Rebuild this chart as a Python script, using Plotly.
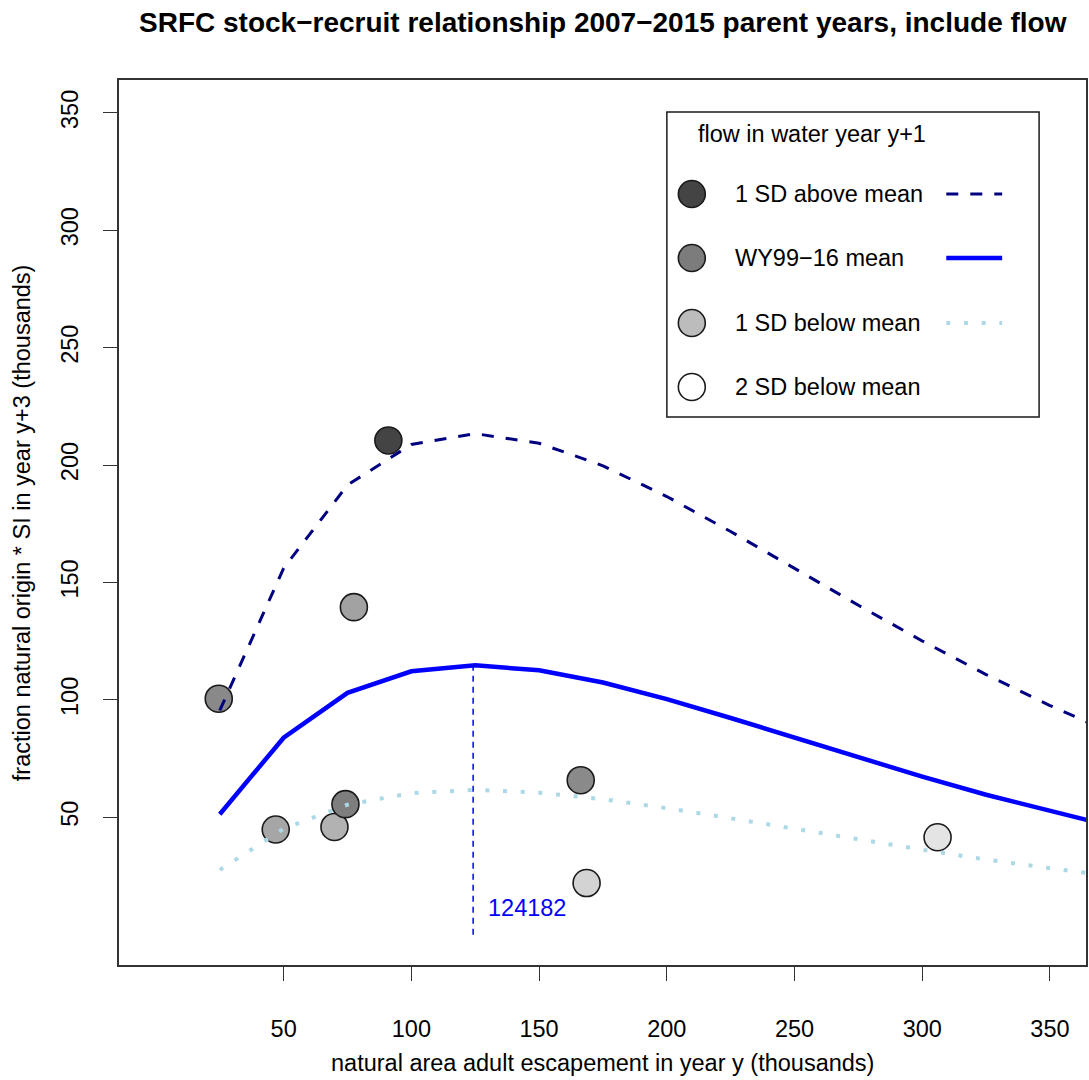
import plotly.graph_objects as go

# ---------------- data ----------------
# observed points: escapement (thousands) vs recruits index (thousands)
POINT_X = [91.0, 77.5, 24.6, 46.9, 69.9, 74.2, 166.3, 168.6, 306.0]
POINT_Y = [210.5, 139.5, 100.5, 44.8, 45.9, 55.6, 65.8, 22.0, 41.5]
POINT_FILL = ["#444444", "#a2a2a2", "#898989", "#a6a6a6", "#b2b2b2",
              "#7e7e7e", "#8a8a8a", "#d3d3d3", "#e4e4e4"]

# fitted stock-recruit curves, evaluated every 25 thousand
CURVE_X = [25, 50, 75, 100, 125, 150, 175, 200, 225, 250, 275, 300, 325, 350, 375]
CURVE_ABOVE = [95.5, 156.1, 191.5, 208.8, 213.4, 209.3, 199.7, 186.6, 171.7,
               156.0, 140.3, 125.1, 110.8, 97.6, 85.5]
CURVE_MEAN = [51.3, 83.9, 103.0, 112.2, 114.7, 112.6, 107.4, 100.3, 92.3,
              83.9, 75.4, 67.3, 59.6, 52.5, 46.0]
CURVE_BELOW = [27.6, 45.1, 55.4, 60.3, 61.7, 60.5, 57.7, 53.9, 49.6,
               45.1, 40.5, 36.2, 32.0, 28.2, 24.7]

PEAK_X = 124.182
PEAK_Y = 114.7
PEAK_LABEL = "124182"

X_TICKS = [50, 100, 150, 200, 250, 300, 350]
Y_TICKS = [50, 100, 150, 200, 250, 300, 350]

LEGEND_TITLE = "flow in water year y+1"
LEGEND_LABELS = ["1 SD above mean", "WY99\u221216 mean", "1 SD below mean", "2 SD below mean"]
LEGEND_FILLS = ["#444444", "#7c7c7c", "#bcbcbc", "#ffffff"]

TITLE = "SRFC stock\u2212recruit relationship 2007\u22122015 parent years, include flow"
X_TITLE = "natural area adult escapement in year y (thousands)"
Y_TITLE = "fraction natural origin * SI in year y+3 (thousands)"

# ---------------- layout geometry ----------------
W, H = 1089, 1080
L, R, T, B = 119, 1088, 80, 965  # plot area in pixels
FONT = "Liberation Sans, Arial, Helvetica, sans-serif"
FS = 23.5


def px_x(p):
    return (p - L) / (R - L)


def px_y(p):
    return (B - p) / (B - T)


fig = go.Figure()

# points (drawn first, lines on top as in the original)
fig.add_trace(go.Scatter(
    x=POINT_X, y=POINT_Y, mode="markers",
    marker=dict(size=27, color=POINT_FILL, line=dict(color="#1a1a1a", width=1.6)),
    showlegend=False, hoverinfo="x+y"))

# curves
fig.add_trace(go.Scatter(x=CURVE_X, y=CURVE_ABOVE, mode="lines",
                         line=dict(color="#000080", width=3, dash="12px,12px"),
                         showlegend=False))
fig.add_trace(go.Scatter(x=CURVE_X, y=CURVE_MEAN, mode="lines",
                         line=dict(color="#0000ff", width=4.5),
                         showlegend=False))
fig.add_trace(go.Scatter(x=CURVE_X, y=CURVE_BELOW, mode="lines",
                         line=dict(color="#add8e6", width=4, dash="4px,13.7px"),
                         showlegend=False))

# vertical line at the peak
fig.add_trace(go.Scatter(x=[PEAK_X, PEAK_X], y=[0, PEAK_Y], mode="lines",
                         line=dict(color="#0000ff", width=1.5, dash="6px,5px"),
                         showlegend=False))

annotations = []
annotations.append(dict(x=PEAK_X, y=11.4, xref="x", yref="y", text=PEAK_LABEL,
                        showarrow=False, xanchor="left", yanchor="middle", xshift=13,
                        font=dict(family=FONT, size=FS, color="#0000ff")))

# titles
annotations.append(dict(x=px_x(604), y=px_y(22), xref="paper", yref="paper",
                        text="<b>" + TITLE + "</b>", showarrow=False,
                        xanchor="center", yanchor="middle",
                        font=dict(family=FONT, size=28, color="black")))
annotations.append(dict(x=px_x(604), y=px_y(1063), xref="paper", yref="paper",
                        text=X_TITLE, showarrow=False, xanchor="center", yanchor="middle",
                        font=dict(family=FONT, size=FS, color="black")))
annotations.append(dict(x=px_x(22), y=px_y(523), xref="paper", yref="paper",
                        text=Y_TITLE, showarrow=False, xanchor="center", yanchor="middle",
                        textangle=-90, font=dict(family=FONT, size=FS, color="black")))

shapes = []
# legend box
shapes.append(dict(type="rect", xref="paper", yref="paper",
                   x0=px_x(668), x1=px_x(1041), y0=px_y(417), y1=px_y(112),
                   line=dict(color="#1a1a1a", width=1.5), fillcolor="white", layer="above"))
annotations.append(dict(x=px_x(697), y=px_y(134), xref="paper", yref="paper",
                        text=LEGEND_TITLE, showarrow=False, xanchor="left", yanchor="middle",
                        font=dict(family=FONT, size=FS, color="black")))
row_y = [194, 258, 323, 387]
for lab, fill, ry in zip(LEGEND_LABELS, LEGEND_FILLS, row_y):
    shapes.append(dict(type="circle", xref="paper", yref="paper",
                       x0=px_x(693 - 13.5), x1=px_x(693 + 13.5),
                       y0=px_y(ry + 13.5), y1=px_y(ry - 13.5),
                       fillcolor=fill, line=dict(color="#1a1a1a", width=1.6), layer="above"))
    annotations.append(dict(x=px_x(734), y=px_y(ry), xref="paper", yref="paper",
                            text=lab, showarrow=False, xanchor="left", yanchor="middle",
                            font=dict(family=FONT, size=FS, color="black")))
legend_lines = [dict(color="#000080", width=3, dash="12px,12px"),
                dict(color="#0000ff", width=4.5),
                dict(color="#add8e6", width=4, dash="4px,13.7px")]
for ln, ry in zip(legend_lines, row_y[:3]):
    shapes.append(dict(type="line", xref="paper", yref="paper",
                       x0=px_x(948), x1=px_x(1004), y0=px_y(ry), y1=px_y(ry),
                       line=ln, layer="above"))

axis_common = dict(showline=True, linecolor="#333333", linewidth=1.5, mirror=True,
                   ticks="outside", ticklen=14, tickwidth=1.3, tickcolor="#333333",
                   showgrid=False, zeroline=False,
                   tickfont=dict(family=FONT, size=FS, color="black"))

fig.update_layout(
    width=W, height=H, autosize=False,
    margin=dict(l=L, r=W - R, t=T, b=H - B, pad=0),
    paper_bgcolor="white", plot_bgcolor="white",
    xaxis=dict(range=[-14.45, 364.1], tickmode="array", tickvals=X_TICKS,
               ticktext=[str(v) for v in X_TICKS], ticklabelstandoff=28, **axis_common),
    yaxis=dict(range=[-12.9, 364.0], tickmode="array", tickvals=Y_TICKS,
               ticktext=[str(v) for v in Y_TICKS], tickangle=-90, ticklabelstandoff=16,
               **axis_common),
    shapes=shapes, annotations=annotations, showlegend=False,
)

fig.write_html("out.html",
               config={"displayModeBar": False},
               post_script="document.body.style.margin='0';"
                           "document.body.style.overflow='hidden';")
